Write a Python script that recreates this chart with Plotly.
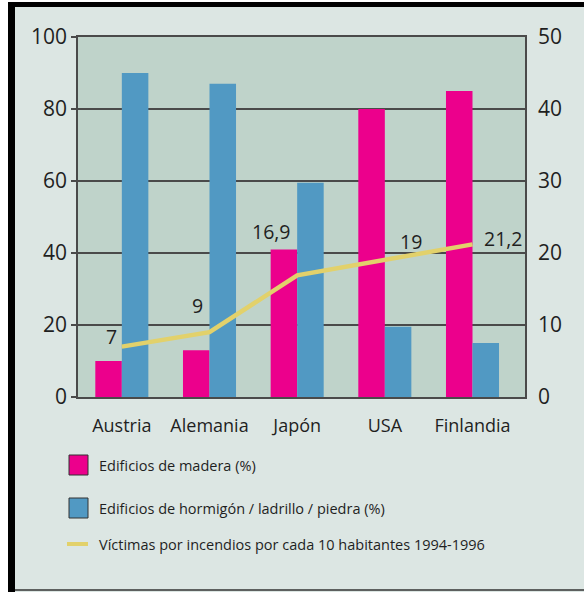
import plotly.graph_objects as go

# Data
countries = ["Austria", "Alemania", "Japón", "USA", "Finlandia"]
madera = [10, 13, 41, 80, 85]          # % wooden buildings
hormigon = [90, 87, 59.5, 19.5, 15]    # % concrete / brick / stone buildings
victimas = [7, 9, 16.9, 19, 21.2]      # fire victims per 10 inhabitants
victimas_labels = ["7", "9", "16,9", "19", "21,2"]

legend_labels = [
    "Edificios de madera (%)",
    "Edificios de hormigón / ladrillo / piedra (%)",
    "Víctimas por incendios por cada 10 habitantes 1994-1996",
]

PINK = "#EC008C"
BLUE = "#5199C3"
YELLOW = "#E2D16B"
PLOT_BG = "#BFD3CA"
PAPER_BG = "#DCE6E3"
INK = "#1f1f1f"
GRID = "#4a4a4a"
FONT = "Open Sans"

W, H = 584, 592
L, R, T, B = 78, 59, 37, 195
PW, PH = W - L - R, H - T - B


def px_x(x):
    return (x - L) / PW


def px_y(y):
    return (H - B - y) / PH


fig = go.Figure()
fig.add_trace(go.Bar(x=countries, y=madera, marker=dict(color=PINK, line_width=0),
                     name=legend_labels[0], showlegend=False))
fig.add_trace(go.Bar(x=countries, y=hormigon, marker=dict(color=BLUE, line_width=0),
                     name=legend_labels[1], showlegend=False))
fig.add_trace(go.Scatter(x=countries, y=victimas, yaxis="y2", mode="lines",
                         line=dict(color=YELLOW, width=4.5),
                         name=legend_labels[2], showlegend=False))

# Value labels on the line
label_offsets = [(-10, 10), (-12, 27), (-26, 44), (26, 19), (31, 6)]
for c, v, t, (dx, dy) in zip(countries, victimas, victimas_labels, label_offsets):
    fig.add_annotation(x=c, y=v, yref="y2", text=t, showarrow=False,
                       xshift=dx, yshift=dy,
                       font=dict(family=FONT, size=19.5, color=INK))

shapes = []
# frame around the whole graphic
shapes.append(dict(type="rect", xref="paper", yref="paper",
                   x0=px_x(0), x1=px_x(8), y0=px_y(H), y1=px_y(0),
                   fillcolor="white", line_width=0, layer="below"))
shapes.append(dict(type="rect", xref="paper", yref="paper",
                   x0=px_x(0), x1=px_x(W), y0=px_y(2), y1=px_y(0),
                   fillcolor="white", line_width=0, layer="below"))
shapes.append(dict(type="rect", xref="paper", yref="paper",
                   x0=px_x(8), x1=px_x(15), y0=px_y(H), y1=px_y(2),
                   fillcolor="black", line_width=0))
shapes.append(dict(type="rect", xref="paper", yref="paper",
                   x0=px_x(8), x1=px_x(W), y0=px_y(7), y1=px_y(2),
                   fillcolor="black", line_width=0))
shapes.append(dict(type="line", xref="paper", yref="paper",
                   x0=px_x(15), x1=px_x(W), y0=px_y(590), y1=px_y(590),
                   line=dict(color="#333333", width=1.5)))

# legend
shapes.append(dict(type="rect", xref="paper", yref="paper",
                   x0=px_x(69), x1=px_x(88), y0=px_y(475), y1=px_y(455),
                   fillcolor=PINK, line=dict(color="#333333", width=1)))
shapes.append(dict(type="rect", xref="paper", yref="paper",
                   x0=px_x(69), x1=px_x(88), y0=px_y(518), y1=px_y(498),
                   fillcolor=BLUE, line=dict(color="#333333", width=1)))
shapes.append(dict(type="line", xref="paper", yref="paper",
                   x0=px_x(67), x1=px_x(88), y0=px_y(544), y1=px_y(544),
                   line=dict(color=YELLOW, width=4)))
for text, yc in zip(legend_labels, [465, 508, 544]):
    fig.add_annotation(xref="paper", yref="paper", x=px_x(97), y=px_y(yc),
                       xanchor="left", yanchor="middle", text=text, showarrow=False,
                       font=dict(family=FONT, size=14.5, color=INK))

fig.update_layout(
    width=W, height=H,
    margin=dict(l=L, r=R, t=T, b=B, pad=0),
    paper_bgcolor=PAPER_BG,
    plot_bgcolor=PLOT_BG,
    barmode="group",
    bargap=0.395,
    bargroupgap=0,
    shapes=shapes,
    font=dict(family=FONT, color=INK),
    xaxis=dict(
        showline=True, mirror=True, linecolor=GRID, linewidth=1.5,
        ticks="", showgrid=False,
        tickfont=dict(family=FONT, size=18, color=INK),
        ticklabelstandoff=12,
    ),
    yaxis=dict(
        range=[0, 100], dtick=20, showline=True, mirror=True,
        linecolor=GRID, linewidth=1.5,
        ticks="outside", ticklen=5, tickcolor=GRID, tickwidth=1.5,
        showgrid=True, gridcolor=GRID, gridwidth=1.5,
        zeroline=False,
        tickfont=dict(family=FONT, size=21, color=INK),
    ),
    yaxis2=dict(
        range=[0, 50], dtick=10, overlaying="y", side="right",
        showgrid=False, zeroline=False, ticks="",
        ticklabelstandoff=12,
        tickfont=dict(family=FONT, size=21, color=INK),
    ),
)

fig.write_html("out.html")
